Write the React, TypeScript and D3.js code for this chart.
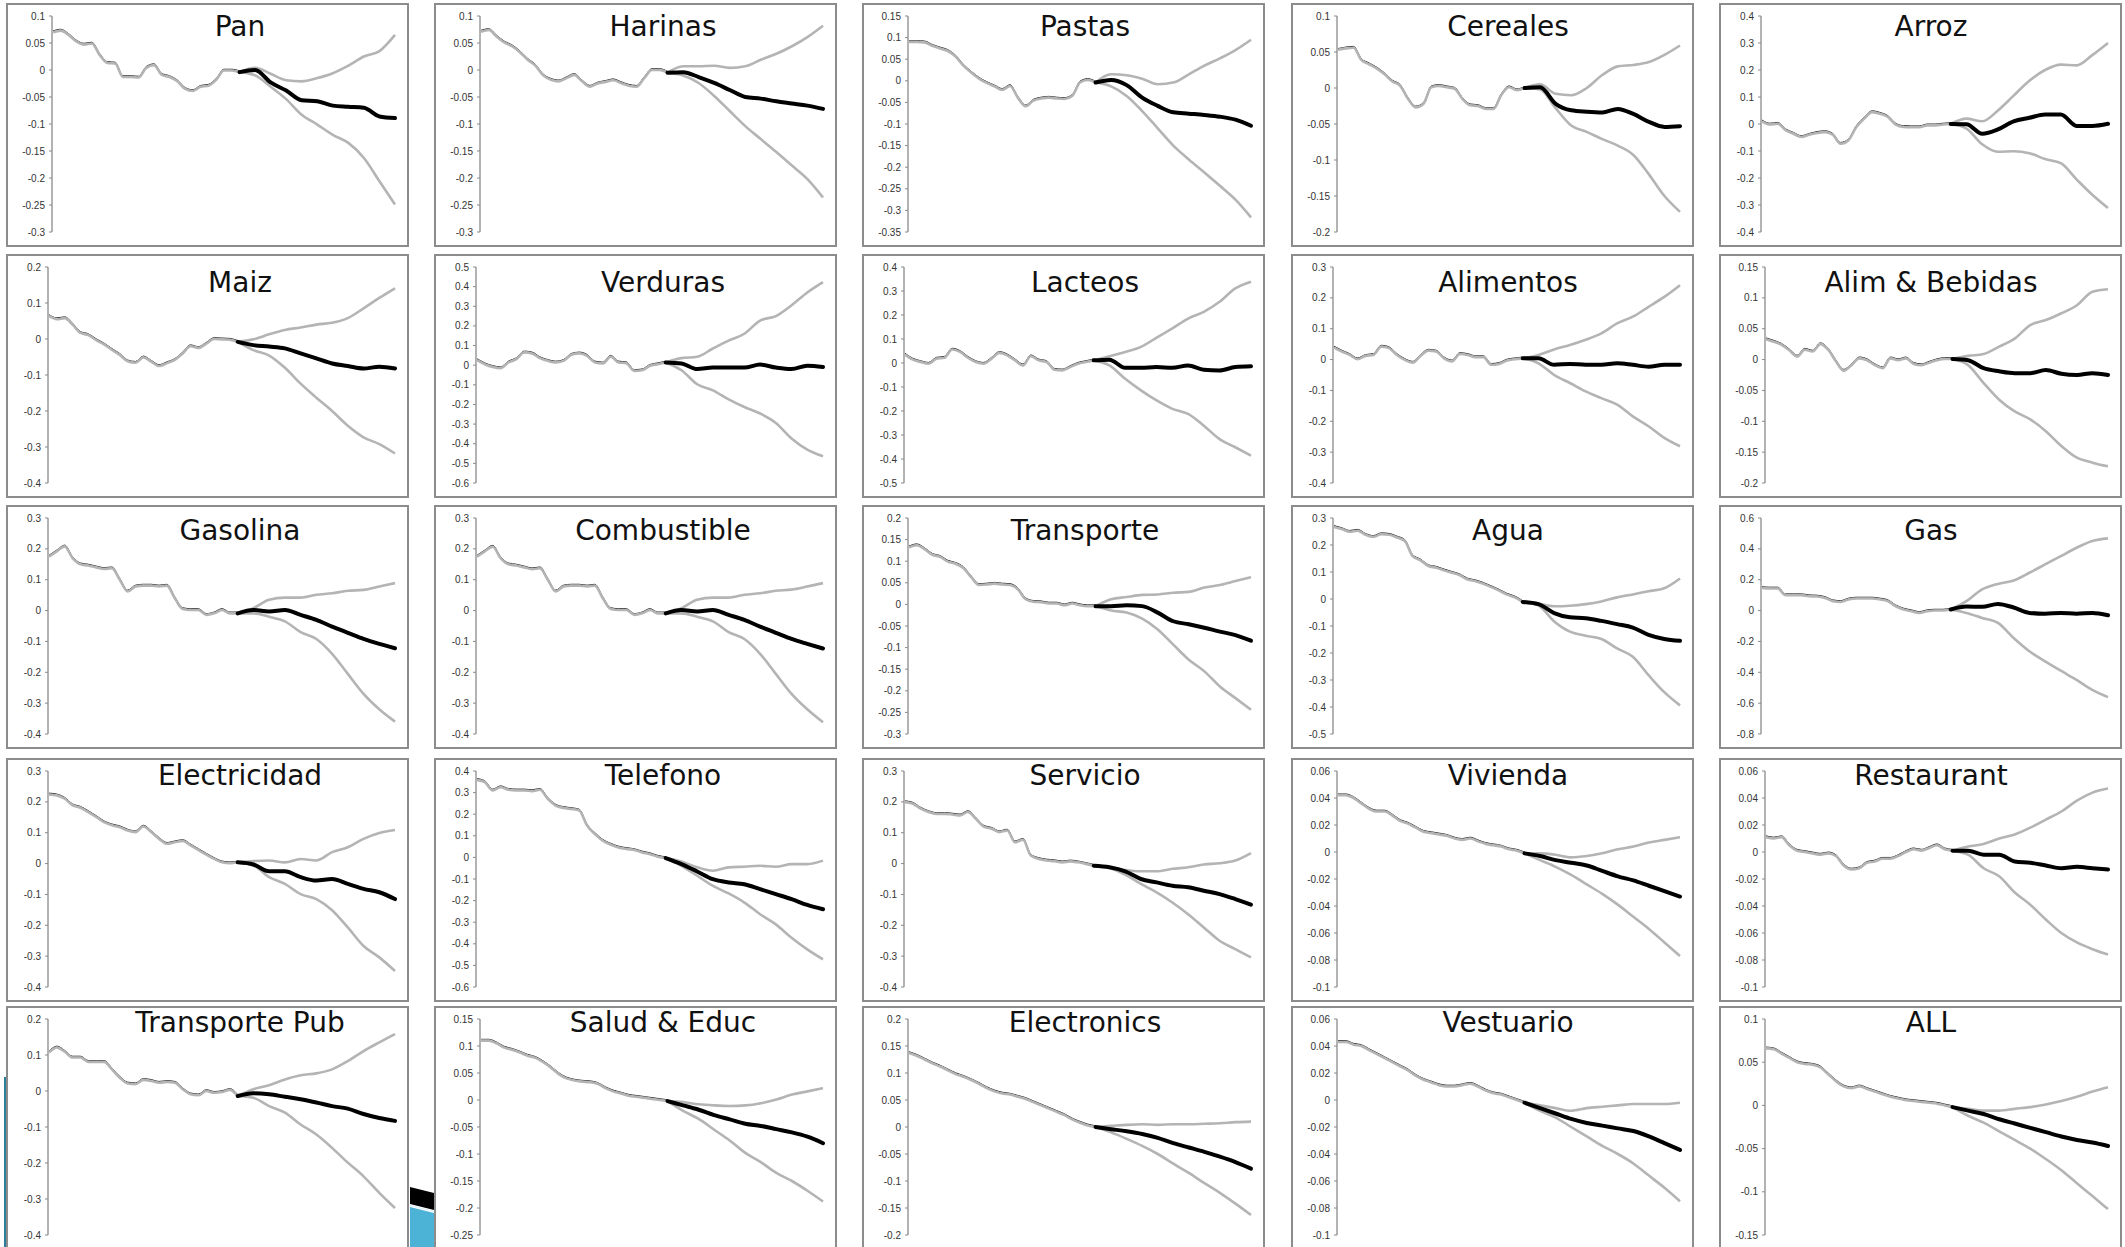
import * as d3 from 'd3'

const W = 2125
const H = 1247

// panel titles, row by row
const TITLES = [
  'Pan', 'Harinas', 'Pastas', 'Cereales', 'Arroz',
  'Maiz', 'Verduras', 'Lacteos', 'Alimentos', 'Alim & Bebidas',
  'Gasolina', 'Combustible', 'Transporte', 'Agua', 'Gas',
  'Electricidad', 'Telefono', 'Servicio', 'Vivienda', 'Restaurant',
  'Transporte Pub', 'Salud & Educ', 'Electronics', 'Vestuario', 'ALL',
]

// y axis range and tick step for each panel
const Y_MIN = [-0.3, -0.3, -0.35, -0.2, -0.4, -0.4, -0.6, -0.5, -0.4, -0.2, -0.4, -0.4, -0.3, -0.5, -0.8, -0.4, -0.6, -0.4, -0.1, -0.1, -0.4, -0.25, -0.2, -0.1, -0.15]
const Y_MAX = [0.1, 0.1, 0.15, 0.1, 0.4, 0.2, 0.5, 0.4, 0.3, 0.15, 0.3, 0.3, 0.2, 0.3, 0.6, 0.3, 0.4, 0.3, 0.06, 0.06, 0.2, 0.15, 0.2, 0.06, 0.1]
const Y_STEP = [0.05, 0.05, 0.05, 0.05, 0.1, 0.1, 0.1, 0.1, 0.1, 0.05, 0.1, 0.1, 0.05, 0.1, 0.2, 0.1, 0.1, 0.1, 0.02, 0.02, 0.1, 0.05, 0.05, 0.02, 0.05]

// periods 0..24 are history, 26..44 (every 2) the projection
const N_PERIODS = 44
const BREAK = 24

const panPre = [0.070, 0.073, 0.065, 0.053, 0.047, 0.049, 0.028, 0.013, 0.012, -0.013, -0.013, -0.014, 0.004, 0.009, -0.009, -0.013, -0.021, -0.035, -0.039, -0.031, -0.029, -0.018, -0.001, -0.001, -0.004]
const panMid = [0.000, -0.023, -0.038, -0.056, -0.058, -0.066, -0.068, -0.070, -0.086, -0.089]
const panUp = [0.004, -0.007, -0.019, -0.021, -0.015, -0.006, 0.008, 0.025, 0.035, 0.065]
const panLow = [-0.010, -0.031, -0.054, -0.083, -0.101, -0.120, -0.135, -0.163, -0.206, -0.249]

const harPre = [0.071, 0.074, 0.062, 0.051, 0.044, 0.033, 0.019, 0.008, -0.010, -0.018, -0.021, -0.015, -0.009, -0.021, -0.031, -0.025, -0.022, -0.019, -0.024, -0.029, -0.031, -0.015, 0.000, 0.000, -0.005]
const harMid = [-0.004, -0.013, -0.024, -0.037, -0.050, -0.053, -0.058, -0.062, -0.066, -0.072]
const harUp = [0.007, 0.007, 0.008, 0.004, 0.007, 0.019, 0.030, 0.044, 0.061, 0.082]
const harLow = [-0.010, -0.024, -0.048, -0.076, -0.104, -0.128, -0.152, -0.177, -0.202, -0.236]

const pasPre = [0.090, 0.090, 0.089, 0.081, 0.075, 0.069, 0.056, 0.035, 0.019, 0.005, -0.005, -0.013, -0.021, -0.012, -0.039, -0.059, -0.046, -0.041, -0.039, -0.041, -0.042, -0.035, -0.004, 0.002, -0.004]
const pasMid = [0.002, -0.010, -0.039, -0.058, -0.073, -0.076, -0.079, -0.083, -0.090, -0.104]
const pasUp = [0.015, 0.013, 0.005, -0.008, -0.004, 0.015, 0.035, 0.052, 0.071, 0.095]
const pasLow = [-0.013, -0.035, -0.070, -0.110, -0.150, -0.182, -0.212, -0.243, -0.275, -0.316]

const cerPre = [0.053, 0.055, 0.056, 0.039, 0.033, 0.027, 0.019, 0.009, 0.003, -0.015, -0.027, -0.022, 0.001, 0.003, 0.001, -0.001, -0.015, -0.024, -0.025, -0.029, -0.029, -0.010, 0.001, -0.003, 0.000]
const cerMid = [0.001, -0.022, -0.031, -0.033, -0.034, -0.029, -0.036, -0.047, -0.054, -0.053]
const cerUp = [0.005, -0.008, -0.010, 0.000, 0.018, 0.030, 0.032, 0.036, 0.046, 0.059]
const cerLow = [-0.002, -0.028, -0.052, -0.061, -0.071, -0.080, -0.093, -0.120, -0.150, -0.172]

const arrPre = [0.010, -0.002, 0.001, -0.023, -0.036, -0.048, -0.040, -0.033, -0.030, -0.040, -0.073, -0.060, -0.011, 0.020, 0.044, 0.038, 0.026, -0.002, -0.011, -0.012, -0.012, -0.005, -0.005, -0.002, 0.000]
const arrMid = [-0.001, -0.036, -0.020, 0.010, 0.023, 0.035, 0.035, -0.007, -0.007, 0.001]
const arrUp = [0.020, 0.010, 0.050, 0.105, 0.160, 0.200, 0.220, 0.217, 0.255, 0.300]
const arrLow = [-0.017, -0.075, -0.103, -0.101, -0.108, -0.130, -0.145, -0.205, -0.262, -0.311]

const maiPre = [0.064, 0.055, 0.058, 0.040, 0.017, 0.011, -0.003, -0.015, -0.030, -0.044, -0.062, -0.066, -0.051, -0.063, -0.075, -0.067, -0.058, -0.040, -0.020, -0.025, -0.013, 0.000, -0.001, -0.002, -0.008]
const maiMid = [-0.017, -0.021, -0.026, -0.040, -0.054, -0.068, -0.075, -0.082, -0.077, -0.082]
const maiUp = [-0.001, 0.013, 0.025, 0.032, 0.040, 0.045, 0.058, 0.085, 0.114, 0.141]
const maiLow = [-0.031, -0.046, -0.080, -0.124, -0.163, -0.200, -0.241, -0.273, -0.292, -0.318]

const verPre = [0.026, 0.005, -0.009, -0.015, 0.014, 0.031, 0.065, 0.060, 0.036, 0.022, 0.014, 0.022, 0.053, 0.060, 0.048, 0.014, 0.009, 0.043, 0.014, 0.010, -0.029, -0.026, -0.003, 0.005, 0.014]
const verMid = [0.009, -0.020, -0.012, -0.012, -0.012, 0.003, -0.012, -0.020, -0.003, -0.009]
const verUp = [0.036, 0.043, 0.085, 0.125, 0.160, 0.227, 0.250, 0.305, 0.370, 0.423]
const verLow = [-0.026, -0.097, -0.128, -0.174, -0.213, -0.246, -0.294, -0.373, -0.430, -0.464]

const lacPre = [0.035, 0.014, 0.004, -0.003, 0.018, 0.022, 0.056, 0.046, 0.022, 0.004, -0.003, 0.018, 0.042, 0.032, 0.011, -0.010, 0.028, 0.011, 0.004, -0.028, -0.031, -0.017, -0.003, 0.004, 0.011]
const lacMid = [0.014, -0.020, -0.020, -0.017, -0.020, -0.010, -0.028, -0.031, -0.017, -0.014]
const lacUp = [0.028, 0.046, 0.067, 0.106, 0.144, 0.185, 0.213, 0.255, 0.311, 0.339]
const lacLow = [-0.010, -0.066, -0.114, -0.156, -0.191, -0.212, -0.261, -0.317, -0.351, -0.386]

const aliPre = [0.039, 0.026, 0.015, 0.001, 0.012, 0.015, 0.042, 0.037, 0.015, -0.001, -0.010, 0.012, 0.029, 0.026, 0.004, -0.006, 0.018, 0.015, 0.008, 0.008, -0.017, -0.014, -0.003, 0.001, 0.004]
const aliMid = [0.004, -0.017, -0.014, -0.017, -0.017, -0.012, -0.017, -0.023, -0.017, -0.017]
const aliUp = [0.015, 0.033, 0.047, 0.064, 0.085, 0.117, 0.139, 0.171, 0.203, 0.241]
const aliLow = [-0.012, -0.050, -0.076, -0.103, -0.125, -0.146, -0.184, -0.216, -0.254, -0.281]

const abePre = [0.033, 0.029, 0.024, 0.015, 0.005, 0.016, 0.013, 0.025, 0.016, -0.003, -0.018, -0.009, 0.002, -0.001, -0.009, -0.014, 0.002, -0.001, 0.002, -0.007, -0.009, -0.005, -0.001, 0.001, 0.001]
const abeMid = [-0.001, -0.014, -0.019, -0.022, -0.022, -0.017, -0.023, -0.025, -0.022, -0.025]
const abeUp = [0.006, 0.009, 0.021, 0.034, 0.056, 0.064, 0.075, 0.088, 0.110, 0.114]
const abeLow = [-0.009, -0.038, -0.065, -0.084, -0.097, -0.116, -0.140, -0.159, -0.167, -0.173]

const gsoPre = [0.175, 0.192, 0.208, 0.170, 0.150, 0.146, 0.140, 0.135, 0.137, 0.100, 0.062, 0.078, 0.081, 0.081, 0.078, 0.081, 0.040, 0.005, 0.002, 0.002, -0.014, -0.009, 0.002, -0.009, -0.009]
const gsoMid = [0.002, -0.003, 0.002, -0.014, -0.030, -0.052, -0.072, -0.092, -0.108, -0.122]
const gsoUp = [0.008, 0.035, 0.042, 0.042, 0.051, 0.056, 0.064, 0.067, 0.078, 0.089]
const gsoLow = [-0.009, -0.020, -0.035, -0.070, -0.092, -0.140, -0.205, -0.270, -0.320, -0.360]

const comPre = [0.175, 0.192, 0.207, 0.170, 0.150, 0.146, 0.140, 0.134, 0.137, 0.100, 0.062, 0.078, 0.081, 0.081, 0.078, 0.081, 0.040, 0.005, 0.002, 0.002, -0.014, -0.009, 0.002, -0.009, -0.009]
const comMid = [0.002, -0.003, 0.002, -0.014, -0.030, -0.052, -0.072, -0.092, -0.108, -0.123]
const comUp = [0.008, 0.035, 0.042, 0.042, 0.051, 0.056, 0.064, 0.068, 0.078, 0.089]
const comLow = [-0.009, -0.020, -0.035, -0.070, -0.092, -0.140, -0.205, -0.270, -0.320, -0.362]

const traPre = [0.132, 0.137, 0.128, 0.115, 0.110, 0.099, 0.094, 0.084, 0.063, 0.045, 0.046, 0.048, 0.046, 0.045, 0.035, 0.012, 0.006, 0.005, 0.002, 0.002, -0.002, 0.002, -0.002, -0.004, -0.004]
const traMid = [-0.004, -0.002, -0.004, -0.019, -0.039, -0.046, -0.054, -0.063, -0.071, -0.084]
const traUp = [0.012, 0.017, 0.022, 0.023, 0.027, 0.029, 0.039, 0.045, 0.054, 0.063]
const traLow = [-0.014, -0.019, -0.033, -0.058, -0.093, -0.128, -0.155, -0.190, -0.217, -0.244]

const aguPre = [0.267, 0.259, 0.249, 0.253, 0.238, 0.230, 0.240, 0.238, 0.228, 0.215, 0.159, 0.143, 0.122, 0.116, 0.106, 0.097, 0.088, 0.072, 0.066, 0.056, 0.044, 0.031, 0.016, 0.006, -0.011]
const aguMid = [-0.019, -0.052, -0.068, -0.071, -0.081, -0.093, -0.106, -0.133, -0.148, -0.155]
const aguUp = [-0.017, -0.027, -0.025, -0.019, -0.009, 0.006, 0.017, 0.029, 0.040, 0.076]
const aguLow = [-0.024, -0.083, -0.121, -0.136, -0.148, -0.183, -0.214, -0.282, -0.345, -0.394]

const gasPre = [0.147, 0.143, 0.143, 0.100, 0.100, 0.100, 0.093, 0.091, 0.082, 0.061, 0.056, 0.072, 0.078, 0.078, 0.078, 0.072, 0.061, 0.028, 0.007, -0.004, -0.015, -0.004, 0.000, 0.000, 0.007]
const gasMid = [0.026, 0.024, 0.043, 0.020, -0.015, -0.020, -0.015, -0.020, -0.015, -0.030]
const gasUp = [0.061, 0.137, 0.173, 0.195, 0.245, 0.299, 0.353, 0.407, 0.451, 0.468]
const gasLow = [-0.015, -0.048, -0.080, -0.178, -0.264, -0.329, -0.390, -0.449, -0.514, -0.561]

const elePre = [0.224, 0.221, 0.210, 0.189, 0.181, 0.167, 0.151, 0.134, 0.124, 0.118, 0.107, 0.102, 0.120, 0.102, 0.080, 0.064, 0.069, 0.073, 0.059, 0.044, 0.029, 0.015, 0.004, 0.001, 0.004]
const eleMid = [-0.003, -0.025, -0.025, -0.044, -0.055, -0.050, -0.066, -0.082, -0.093, -0.115]
const eleUp = [0.008, 0.010, 0.004, 0.015, 0.010, 0.037, 0.053, 0.080, 0.099, 0.109]
const eleLow = [-0.006, -0.044, -0.066, -0.099, -0.115, -0.151, -0.207, -0.267, -0.304, -0.348]

const telPre = [0.359, 0.348, 0.310, 0.325, 0.313, 0.310, 0.310, 0.307, 0.313, 0.271, 0.240, 0.229, 0.224, 0.217, 0.147, 0.108, 0.077, 0.059, 0.046, 0.039, 0.034, 0.023, 0.015, 0.003, -0.003]
const telMid = [-0.031, -0.065, -0.101, -0.116, -0.124, -0.147, -0.170, -0.193, -0.220, -0.240]
const telUp = [-0.019, -0.046, -0.062, -0.046, -0.043, -0.039, -0.043, -0.031, -0.031, -0.015]
const telLow = [-0.039, -0.085, -0.132, -0.167, -0.209, -0.263, -0.310, -0.372, -0.426, -0.472]

const serPre = [0.199, 0.194, 0.178, 0.167, 0.161, 0.161, 0.159, 0.156, 0.167, 0.145, 0.120, 0.113, 0.102, 0.107, 0.069, 0.077, 0.026, 0.015, 0.010, 0.008, 0.004, 0.007, 0.004, -0.001, -0.007]
const serMid = [-0.012, -0.025, -0.050, -0.061, -0.072, -0.077, -0.088, -0.099, -0.115, -0.133]
const serUp = [-0.012, -0.021, -0.025, -0.025, -0.017, -0.012, -0.003, 0.001, 0.010, 0.034]
const serLow = [-0.014, -0.036, -0.066, -0.093, -0.126, -0.164, -0.207, -0.250, -0.277, -0.304]

const vivPre = [0.042, 0.042, 0.040, 0.036, 0.032, 0.030, 0.030, 0.027, 0.023, 0.021, 0.018, 0.015, 0.014, 0.013, 0.012, 0.010, 0.009, 0.010, 0.008, 0.006, 0.005, 0.004, 0.002, 0.001, -0.001]
const vivMid = [-0.003, -0.006, -0.008, -0.010, -0.014, -0.018, -0.021, -0.025, -0.029, -0.033]
const vivUp = [-0.001, -0.002, -0.004, -0.003, -0.001, 0.002, 0.004, 0.007, 0.009, 0.011]
const vivLow = [-0.006, -0.011, -0.017, -0.024, -0.031, -0.039, -0.048, -0.057, -0.067, -0.077]

const resPre = [0.011, 0.010, 0.011, 0.005, 0.001, 0.000, -0.001, -0.002, -0.001, -0.003, -0.010, -0.013, -0.012, -0.008, -0.007, -0.005, -0.005, -0.003, 0.000, 0.002, 0.001, 0.003, 0.005, 0.002, 0.001]
const resMid = [0.001, -0.002, -0.002, -0.007, -0.008, -0.010, -0.012, -0.011, -0.012, -0.013]
const resUp = [0.004, 0.006, 0.010, 0.013, 0.018, 0.024, 0.030, 0.038, 0.044, 0.047]
const resLow = [-0.002, -0.012, -0.018, -0.030, -0.039, -0.050, -0.060, -0.067, -0.072, -0.076]

const tpuPre = [0.107, 0.121, 0.109, 0.093, 0.093, 0.081, 0.081, 0.081, 0.060, 0.037, 0.021, 0.019, 0.031, 0.028, 0.023, 0.025, 0.023, 0.005, -0.009, -0.012, 0.000, -0.005, -0.003, 0.003, -0.014]
const tpuMid = [-0.006, -0.009, -0.016, -0.023, -0.032, -0.042, -0.049, -0.064, -0.075, -0.083]
const tpuUp = [0.005, 0.016, 0.032, 0.044, 0.049, 0.060, 0.083, 0.111, 0.135, 0.158]
const tpuLow = [-0.019, -0.042, -0.060, -0.093, -0.121, -0.158, -0.199, -0.237, -0.283, -0.325]

const salPre = [0.110, 0.110, 0.105, 0.097, 0.093, 0.088, 0.082, 0.078, 0.070, 0.060, 0.048, 0.040, 0.036, 0.034, 0.033, 0.030, 0.022, 0.016, 0.012, 0.008, 0.006, 0.004, 0.002, 0.000, -0.002]
const salMid = [-0.010, -0.018, -0.028, -0.036, -0.044, -0.048, -0.054, -0.060, -0.068, -0.080]
const salUp = [-0.004, -0.008, -0.010, -0.011, -0.010, -0.006, 0.001, 0.010, 0.016, 0.022]
const salLow = [-0.020, -0.035, -0.055, -0.075, -0.098, -0.115, -0.135, -0.150, -0.168, -0.188]

const etrPre = [0.137, 0.132, 0.125, 0.118, 0.112, 0.105, 0.098, 0.093, 0.087, 0.080, 0.072, 0.066, 0.062, 0.060, 0.056, 0.052, 0.046, 0.040, 0.034, 0.028, 0.022, 0.014, 0.008, 0.003, 0.000]
const etrMid = [-0.004, -0.008, -0.013, -0.020, -0.030, -0.038, -0.046, -0.055, -0.065, -0.077]
const etrUp = [0.002, 0.004, 0.005, 0.004, 0.005, 0.005, 0.006, 0.007, 0.009, 0.010]
const etrLow = [-0.010, -0.022, -0.035, -0.050, -0.068, -0.085, -0.104, -0.122, -0.142, -0.163]

const vesPre = [0.043, 0.043, 0.041, 0.040, 0.037, 0.034, 0.031, 0.028, 0.025, 0.022, 0.018, 0.015, 0.013, 0.011, 0.010, 0.010, 0.011, 0.012, 0.010, 0.007, 0.005, 0.004, 0.002, 0.000, -0.002]
const vesMid = [-0.006, -0.010, -0.014, -0.017, -0.019, -0.021, -0.023, -0.027, -0.032, -0.037]
const vesUp = [-0.004, -0.006, -0.008, -0.006, -0.005, -0.004, -0.003, -0.003, -0.003, -0.002]
const vesLow = [-0.008, -0.013, -0.020, -0.027, -0.034, -0.040, -0.047, -0.056, -0.065, -0.075]

const allPre = [0.066, 0.065, 0.060, 0.055, 0.050, 0.048, 0.047, 0.044, 0.036, 0.028, 0.022, 0.020, 0.022, 0.019, 0.016, 0.013, 0.010, 0.008, 0.006, 0.005, 0.004, 0.003, 0.002, 0.000, -0.002]
const allMid = [-0.006, -0.010, -0.016, -0.021, -0.026, -0.031, -0.036, -0.040, -0.043, -0.047]
const allUp = [-0.004, -0.006, -0.006, -0.004, -0.002, 0.001, 0.005, 0.010, 0.016, 0.021]
const allLow = [-0.012, -0.020, -0.030, -0.040, -0.050, -0.062, -0.075, -0.090, -0.105, -0.120]

const PRE = [panPre, harPre, pasPre, cerPre, arrPre, maiPre, verPre, lacPre, aliPre, abePre, gsoPre, comPre, traPre, aguPre, gasPre, elePre, telPre, serPre, vivPre, resPre, tpuPre, salPre, etrPre, vesPre, allPre]
const MID = [panMid, harMid, pasMid, cerMid, arrMid, maiMid, verMid, lacMid, aliMid, abeMid, gsoMid, comMid, traMid, aguMid, gasMid, eleMid, telMid, serMid, vivMid, resMid, tpuMid, salMid, etrMid, vesMid, allMid]
const UP = [panUp, harUp, pasUp, cerUp, arrUp, maiUp, verUp, lacUp, aliUp, abeUp, gsoUp, comUp, traUp, aguUp, gasUp, eleUp, telUp, serUp, vivUp, resUp, tpuUp, salUp, etrUp, vesUp, allUp]
const LOW = [panLow, harLow, pasLow, cerLow, arrLow, maiLow, verLow, lacLow, aliLow, abeLow, gsoLow, comLow, traLow, aguLow, gasLow, eleLow, telLow, serLow, vivLow, resLow, tpuLow, salLow, etrLow, vesLow, allLow]

// grid of panel boxes
const COL_X = [7, 435, 863, 1292, 1720]
const ROW_Y = [4, 255, 506, 759, 1007]
const BOX_W = 401
const BOX_H = 242
const TITLE_DX = [233, 228, 222, 216, 211]
const TITLE_DY = [32, 37, 34, 26, 25]

const GRAY = '#b4b4b4'
const fmt = (v: number) => String(+v.toFixed(3))

type Pt = [number, number]

const Panel = ({ i }: { i: number }) => {
  const col = i % 5
  const row = Math.floor(i / 5)
  const x0 = COL_X[col]
  const y0 = ROW_Y[row]
  const step = Y_STEP[i]
  const axisX = x0 + (step < 0.1 ? 45 : 41)

  const x = d3.scaleLinear().domain([0, N_PERIODS]).range([axisX + 1, x0 + 388])
  const y = d3.scaleLinear().domain([Y_MIN[i], Y_MAX[i]]).range([y0 + 228, y0 + 12])

  const nTicks = Math.round((Y_MAX[i] - Y_MIN[i]) / step)
  const ticks = d3.range(nTicks + 1).map(k => +(Y_MIN[i] + k * step).toFixed(4))

  const line = d3.line<Pt>().x(d => x(d[0])).y(d => y(d[1])).curve(d3.curveMonotoneX)

  const pre: Pt[] = PRE[i].map((v, k) => [k, v])
  const joint: Pt = [BREAK, PRE[i][BREAK]]
  const post = (arr: number[]): Pt[] => [joint, ...arr.map((v, k) => [BREAK + 2 + 2 * k, v] as Pt)]

  return (
    <g>
      <rect x={x0} y={y0} width={BOX_W} height={BOX_H} fill="#fff" stroke="#8c8c8c" strokeWidth={2} />
      <line x1={axisX} x2={axisX} y1={y(Y_MIN[i])} y2={y(Y_MAX[i])} stroke="#8a8a8a" strokeWidth={1.3} />
      {ticks.map(t => (
        <g key={t}>
          <line x1={axisX - 3} x2={axisX} y1={y(t)} y2={y(t)} stroke="#8a8a8a" strokeWidth={1} />
          <text x={axisX - 7} y={y(t)} dy="0.35em" textAnchor="end" fontFamily="'Liberation Sans', Arial, sans-serif" fontSize={10} fill="#333">
            {fmt(t)}
          </text>
        </g>
      ))}
      <path d={line(post(UP[i])) || ''} fill="none" stroke={GRAY} strokeWidth={2.6} strokeLinejoin="round" />
      <path d={line(post(LOW[i])) || ''} fill="none" stroke={GRAY} strokeWidth={2.6} strokeLinejoin="round" />
      <path d={line(pre) || ''} fill="none" stroke="#1a1a1a" strokeWidth={1} transform="translate(0,-1.3)" strokeLinejoin="round" />
      <path d={line(pre) || ''} fill="none" stroke={GRAY} strokeWidth={2.6} strokeLinejoin="round" />
      <path d={line(post(MID[i])) || ''} fill="none" stroke="#000" strokeWidth={4} strokeLinejoin="round" strokeLinecap="round" />
      <text x={x0 + TITLE_DX[col]} y={y0 + TITLE_DY[row]} textAnchor="middle" fontFamily="'DejaVu Sans', sans-serif" fontSize={28} fill="#111">
        {TITLES[i]}
      </text>
    </g>
  )
}

export default function App() {
  return (
    <svg width={W} height={H} style={{ position: 'absolute', left: 0, top: 0, background: '#fff' }}>
      <rect width={W} height={H} fill="#fff" />
      {TITLES.map((_, i) => <Panel key={i} i={i} />)}
      {/* stray bits of another picture peeking in at the lower left */}
      <rect x={4} y={1077} width={2} height={170} fill="#2a7e9b" />
      <polygon points="410,1187 434,1193 434,1210 410,1204" fill="#000" />
      <polygon points="410,1207 434,1213 434,1247 410,1247" fill="#4cb3d6" />
      <line x1={410} y1={1205.5} x2={434} y2={1211.5} stroke="#e6f4fa" strokeWidth={1.5} />
    </svg>
  )
}
